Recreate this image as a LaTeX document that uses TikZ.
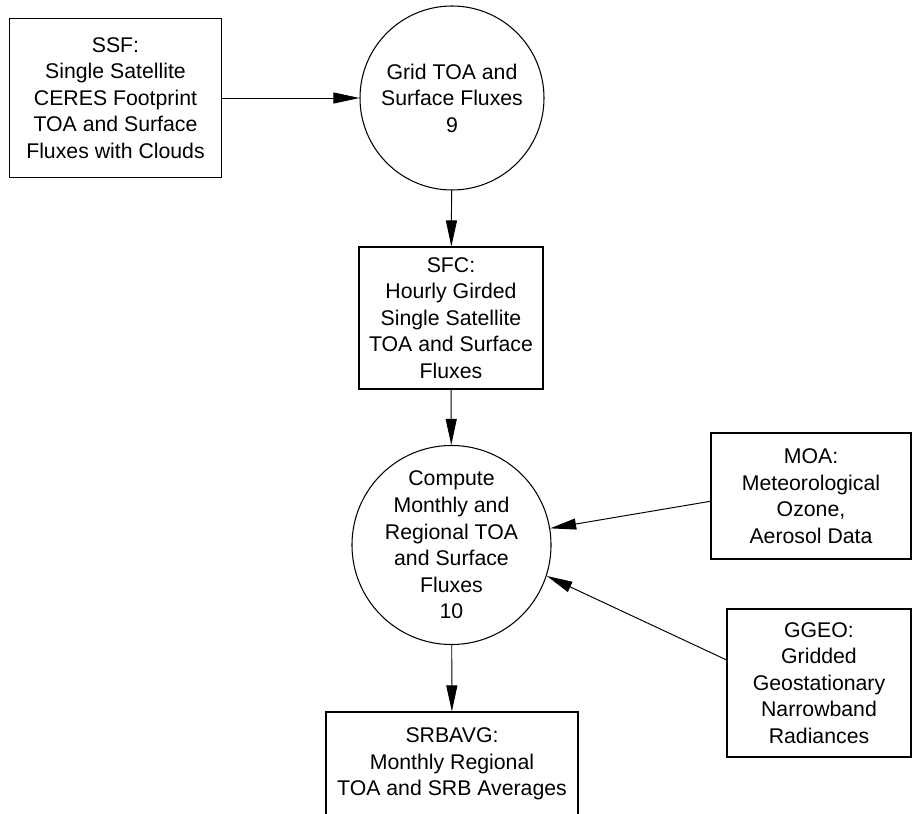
\documentclass[tikz,border=0pt]{standalone}
\usepackage{fontspec}
\setmainfont{Liberation Sans}
\usetikzlibrary{arrows.meta}
\tikzset{
  databox/.style={draw, rectangle, align=center, inner sep=0pt, line width=0.6pt},
  procnode/.style={draw, circle, align=center, inner sep=0pt, line width=0.6pt, minimum size=3.68cm}
}
\begin{document}
\begin{tikzpicture}[line width=0.55pt, >={Triangle[length=5.2mm,width=2.2mm]}, font=\fontsize{12.1}{15.1}\selectfont]
  \useasboundingbox (0,0) rectangle (18.24,-16.28);
  \node[databox, minimum width=4.24cm, minimum height=3.18cm] (ssf) at (2.31,-1.96) {SSF:\\Single Satellite\\CERES Footprint\\TOA and Surface\\Fluxes with Clouds};
  \node[procnode] (grid) at (9.04,-1.96) {Grid TOA and\\Surface Fluxes\\9};
  \node[databox, minimum width=3.68cm, minimum height=2.84cm] (sfc) at (9.02,-6.36) {SFC:\\Hourly Girded\\Single Satellite\\TOA and Surface\\Fluxes};
  \node[procnode] (compute) at (9.03,-10.9) {Compute\\Monthly and\\Regional TOA\\and Surface\\Fluxes\\10};
  \node[databox, minimum width=4.0cm, minimum height=2.52cm] (moa) at (16.22,-9.92) {MOA:\\Meteorological\\Ozone,\\Aerosol Data};
  \node[databox, minimum width=3.68cm, minimum height=2.96cm] (ggeo) at (16.38,-13.66) {GGEO:\\Gridded\\Geostationary\\Narrowband\\Radiances};
  \node[databox, minimum width=5.04cm, minimum height=2.08cm] (srbavg) at (9.04,-15.28) {SRBAVG:\\Monthly Regional\\TOA and SRB Averages};
  \draw[->] (ssf) -- (grid);
  \draw[->] (grid) -- (sfc);
  \draw[->] (sfc) -- (compute);
  \draw[->] (moa.183) -- (compute);
  \draw[->] (ggeo.166) -- (compute.342);
  \draw[->] (compute) -- (srbavg);
\end{tikzpicture}
\end{document}
